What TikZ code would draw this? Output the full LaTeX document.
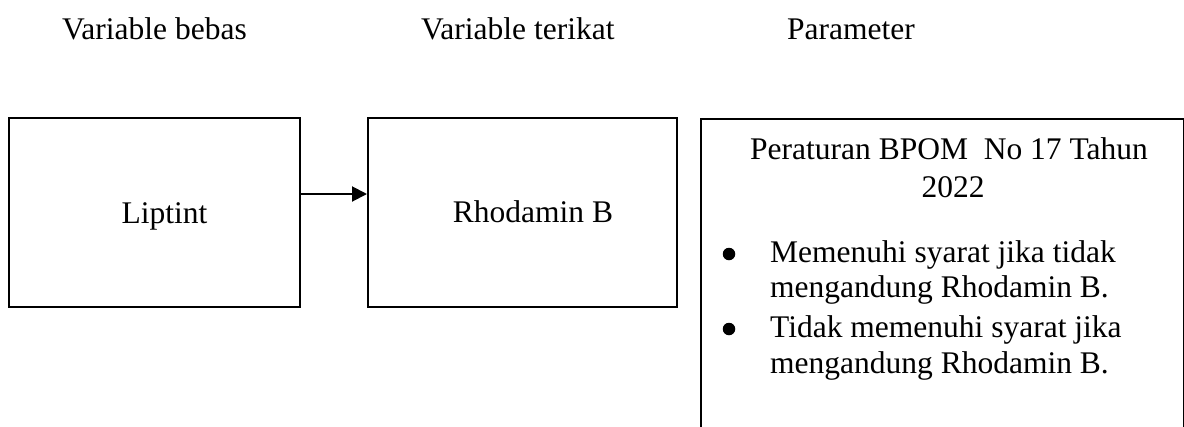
\documentclass[tikz,border=0pt]{standalone}
\usepackage{fontspec}
\setmainfont{Liberation Serif}
\usetikzlibrary{arrows.meta}
\tikzset{
  box/.style={draw=black, line width=2pt, rectangle, inner sep=0pt},
  txt/.style={inner sep=0pt, font=\fontsize{31.5pt}{36pt}\selectfont, text=black},
  bulletdot/.style={circle, fill=black, inner sep=0pt, minimum size=12.5pt},
  arr/.style={line width=2pt, -{Triangle[length=15pt,width=15pt]}}
}
\begin{document}
\begin{tikzpicture}[x=1pt,y=-1pt]
\useasboundingbox (0,0) rectangle (1184,426);
\clip (0,0) rectangle (1184,426);
% top labels
\node[txt, anchor=base west] (lbebas) at (62,39) {Variable bebas};
\node[txt, anchor=base west] (lterikat) at (421,39) {Variable terikat};
\node[txt, anchor=base west] (lparam) at (787,39) {Parameter};
% boxes
\node[box, minimum width=291pt, minimum height=189pt] (b1) at (154.5,212.5) {};
\node[box, minimum width=309pt, minimum height=189pt] (b2) at (522.5,212.5) {};
\node[box, minimum width=482.5pt, minimum height=360pt, anchor=north west] (b3) at (700,118) {};
% box texts
\node[txt, anchor=base] (t1) at (164.5,223) {Liptint};
\node[txt, anchor=base] (t2) at (533,222) {Rhodamin B};
\node[txt, anchor=base west] (p1) at (750,159) {Peraturan BPOM\ \ No 17 Tahun};
\node[txt, anchor=base] (p2) at (953,197) {2022};
\node[bulletdot] (bul1) at (729,254) {};
\node[txt, anchor=base west] (i1a) at (770,262) {Memenuhi syarat jika tidak};
\node[txt, anchor=base west] (i1b) at (770,297) {mengandung Rhodamin B.};
\node[bulletdot] (bul2) at (729,329) {};
\node[txt, anchor=base west] (i2a) at (770,337) {Tidak memenuhi syarat jika};
\node[txt, anchor=base west] (i2b) at (770,373) {mengandung Rhodamin B.};
% connector
\draw[arr] ([yshift=18.5pt]b1.east) -- ([yshift=18.5pt]b2.west);
\end{tikzpicture}
\end{document}
